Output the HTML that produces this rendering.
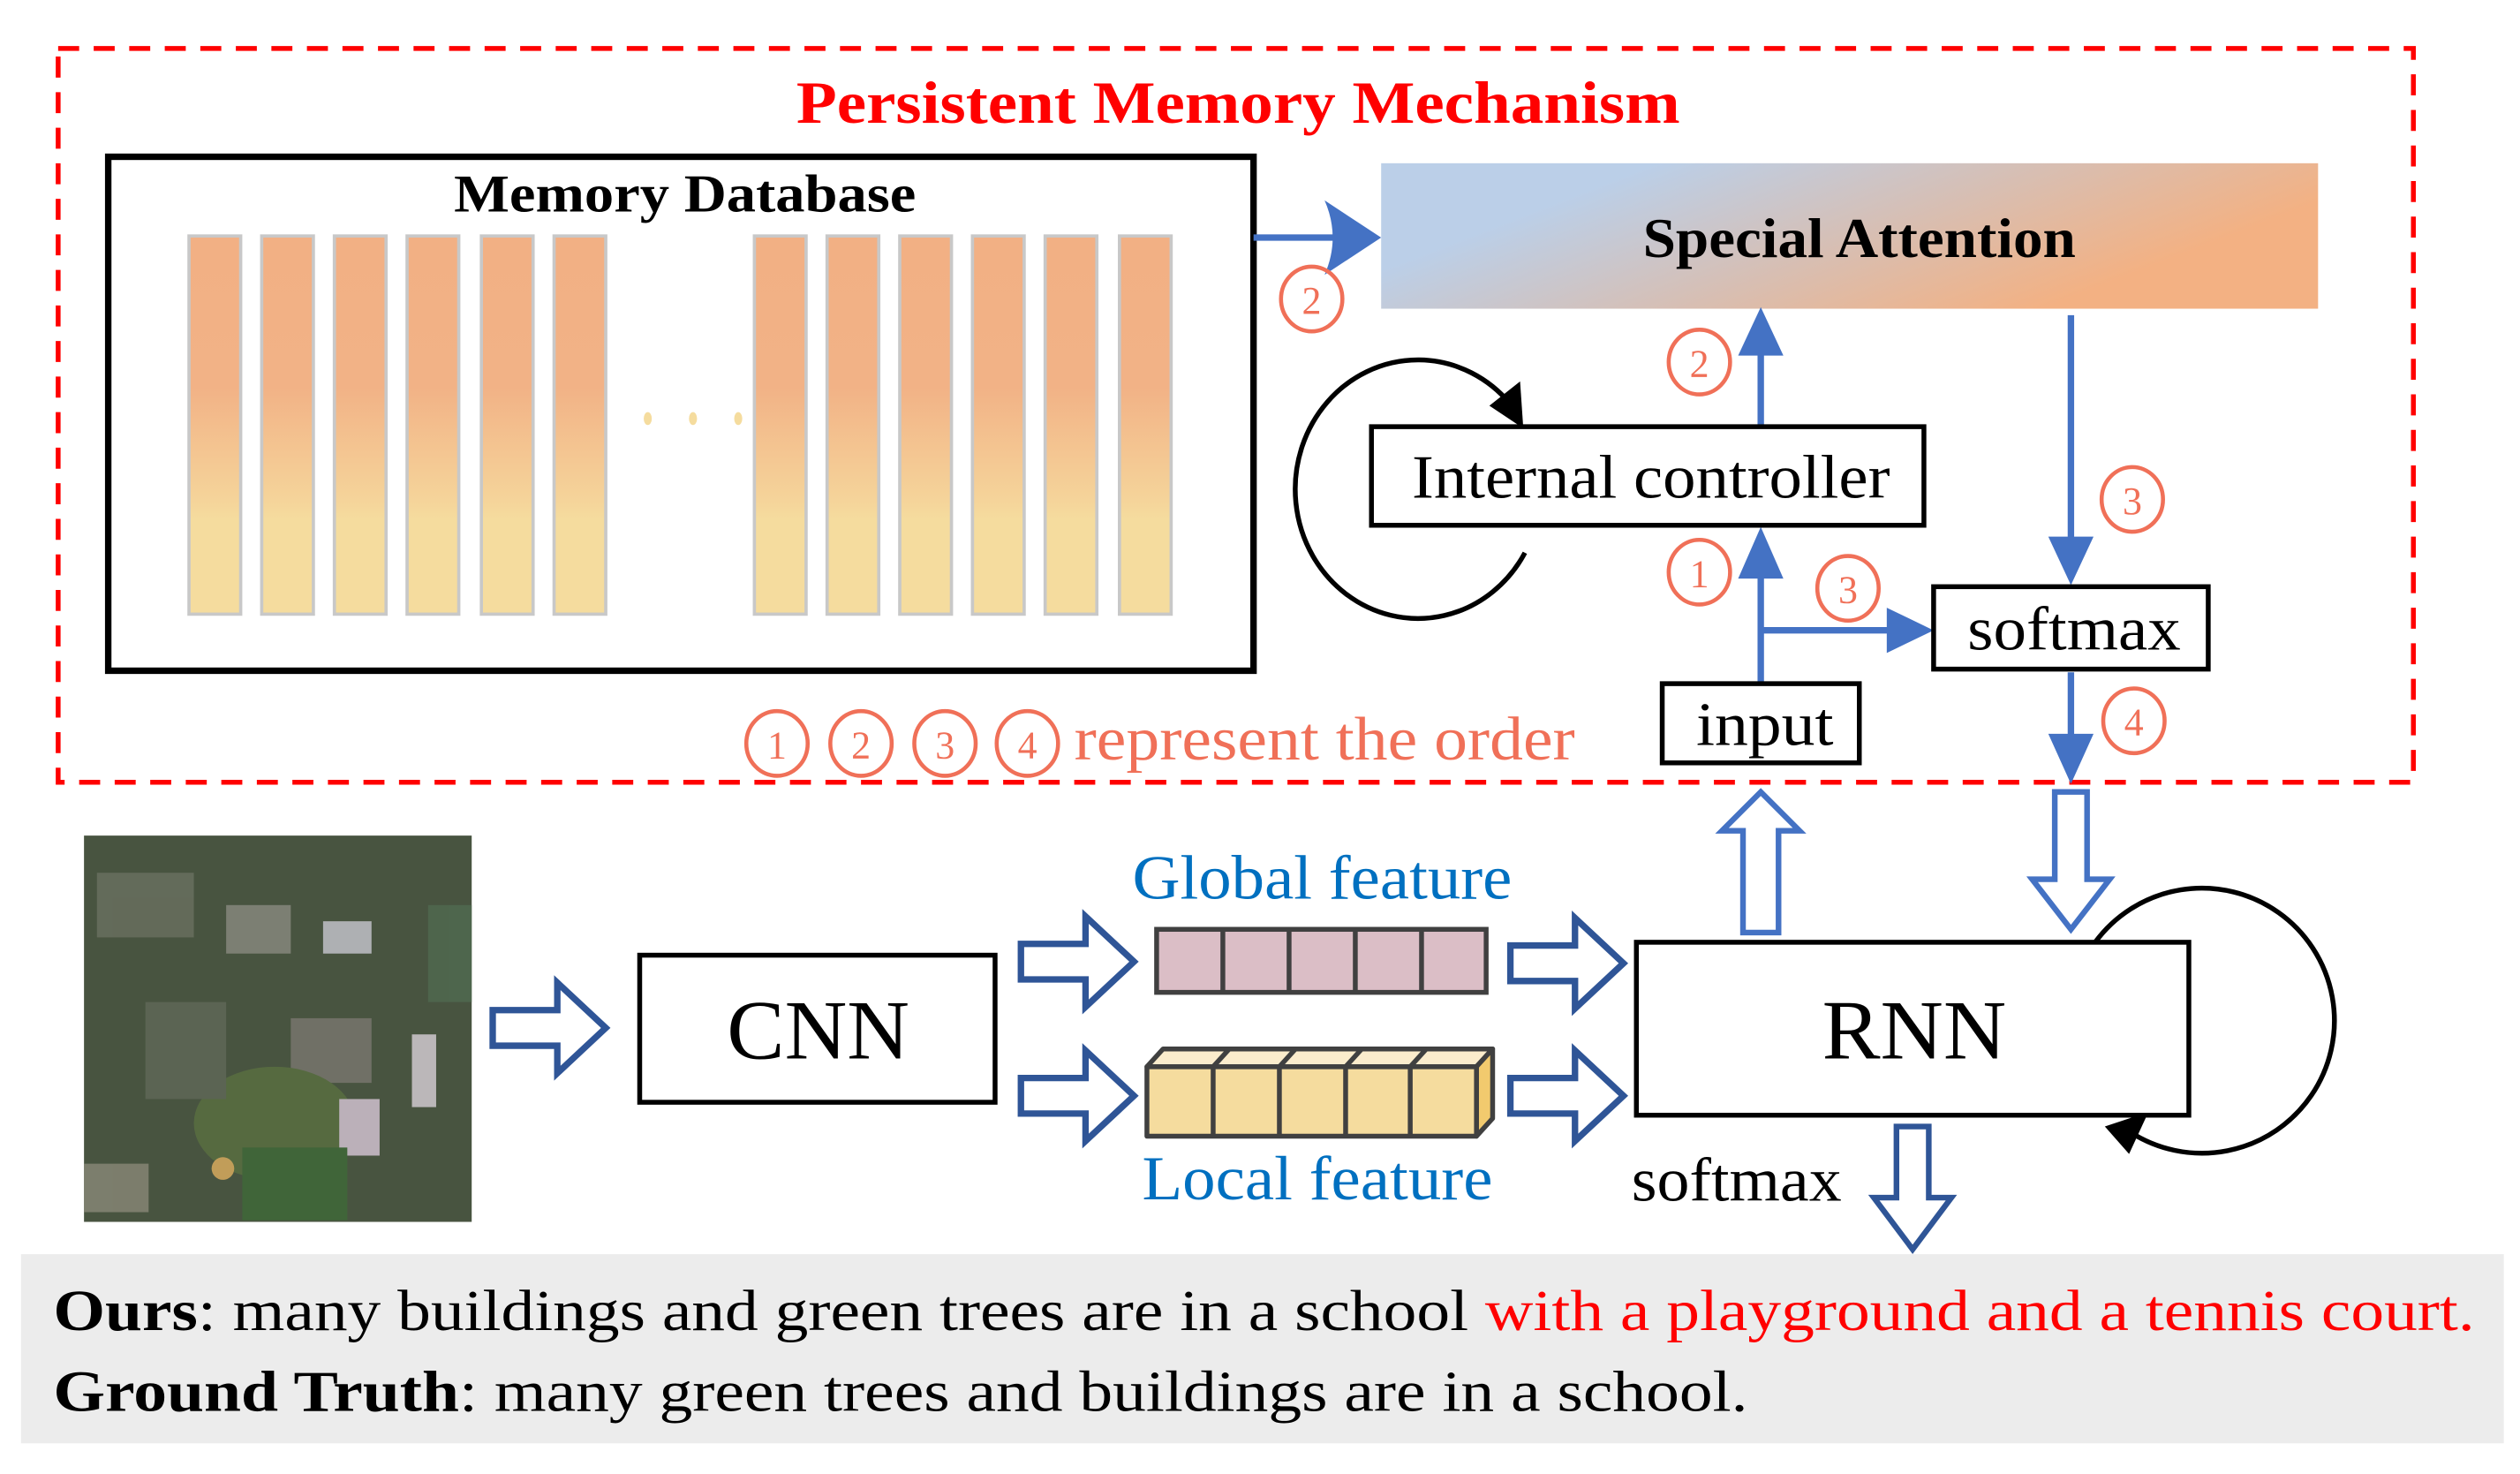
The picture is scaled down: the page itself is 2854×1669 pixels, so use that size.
<!DOCTYPE html>
<html><head><meta charset="utf-8"><style>html,body{margin:0;padding:0;background:#fff}svg{display:block}</style></head>
<body>
<svg width="2854" height="1669" viewBox="0 0 1560 912" preserveAspectRatio="none" xmlns="http://www.w3.org/2000/svg" font-family="'Liberation Serif', serif">
<defs>
<linearGradient id="bar" x1="0" y1="0" x2="0" y2="1">
<stop offset="0" stop-color="#f2b084"/><stop offset="0.4" stop-color="#f2b286"/><stop offset="0.7" stop-color="#f5d49a"/><stop offset="0.75" stop-color="#f5dc9e"/><stop offset="1" stop-color="#f5dc9e"/></linearGradient>
<linearGradient id="sa" x1="0" y1="0.3" x2="1" y2="0.7">
<stop offset="0.15" stop-color="#bbcfe8"/><stop offset="0.5" stop-color="#d6bfb5"/><stop offset="0.85" stop-color="#f3b183"/></linearGradient>
<g id="hr"><path d="M0,-11 H40 V-28 L70,0 L40,28 V11 H0 Z" fill="#fff" stroke="#2f5597" stroke-width="4" stroke-linejoin="miter"/></g>
</defs>
<rect width="1560" height="912" fill="#fff"/>
<rect x="36" y="30" width="1458" height="454" fill="none" stroke="#ff0000" stroke-width="3" stroke-dasharray="13 9"/>
<text x="493" y="76" font-size="37" font-weight="bold" fill="#ff0000" textLength="547" lengthAdjust="spacingAndGlyphs">Persistent Memory Mechanism</text>
<rect x="67" y="97" width="709" height="318" fill="#fff" stroke="#000" stroke-width="4"/>
<text x="281" y="131" font-size="33" font-weight="bold" textLength="286" lengthAdjust="spacingAndGlyphs">Memory Database</text>
<g fill="url(#bar)" stroke="#c8c8c8" stroke-width="2">
<rect x="117" y="146" width="32" height="234"/><rect x="162" y="146" width="32" height="234"/><rect x="207" y="146" width="32" height="234"/><rect x="252" y="146" width="32" height="234"/><rect x="298" y="146" width="32" height="234"/><rect x="343" y="146" width="32" height="234"/>
<rect x="467" y="146" width="32" height="234"/><rect x="512" y="146" width="32" height="234"/><rect x="557" y="146" width="32" height="234"/><rect x="602" y="146" width="32" height="234"/><rect x="647" y="146" width="32" height="234"/><rect x="693" y="146" width="32" height="234"/>
</g>
<g fill="#f5dc9e"><ellipse cx="401" cy="259" rx="2.5" ry="4"/><ellipse cx="429" cy="259" rx="2.5" ry="4"/><ellipse cx="457" cy="259" rx="2.5" ry="4"/></g>
<rect x="855" y="101" width="580" height="90" fill="url(#sa)"/>
<text x="1017" y="159" font-size="35" font-weight="bold" textLength="268" lengthAdjust="spacingAndGlyphs">Special Attention</text>
<g stroke="#4472c4" stroke-width="4" fill="none">
<line x1="776" y1="147" x2="828" y2="147"/>
<line x1="1090" y1="264" x2="1090" y2="215"/>
<line x1="1090" y1="422" x2="1090" y2="350"/>
<line x1="1090" y1="390" x2="1172" y2="390"/>
<line x1="1282" y1="195" x2="1282" y2="338"/>
<line x1="1282" y1="416" x2="1282" y2="460"/>
</g>
<g fill="#4472c4">
<path d="M855,147 L820,124 Q830,147 820,170 Z"/>
<path d="M1090,190 L1076,220 L1104,220 Z"/>
<path d="M1090,326 L1076,358 L1104,358 Z"/>
<path d="M1197,390 L1168,376 L1168,404 Z"/>
<path d="M1282,362 L1268,332 L1296,332 Z"/>
<path d="M1282,485 L1268,454 L1296,454 Z"/>
</g>
<path d="M944,342 A76,80 0 1 1 935,250" fill="none" stroke="#000" stroke-width="3"/>
<path d="M943,265 L922,251 L941,236 Z" fill="#000"/>
<rect x="849" y="264" width="342" height="61" fill="#fff" stroke="#000" stroke-width="3"/>
<text x="874" y="308" font-size="38" textLength="296" lengthAdjust="spacingAndGlyphs">Internal controller</text>
<rect x="1029" y="423" width="122" height="49" fill="#fff" stroke="#000" stroke-width="3"/>
<text x="1050" y="461" font-size="38" textLength="85" lengthAdjust="spacingAndGlyphs">input</text>
<rect x="1197" y="363" width="170" height="51" fill="#fff" stroke="#000" stroke-width="3"/>
<text x="1218" y="402" font-size="38" textLength="132" lengthAdjust="spacingAndGlyphs">softmax</text>
<g fill="none" stroke="#f07058" stroke-width="2.5">
<ellipse cx="812" cy="185" rx="19" ry="20"/><ellipse cx="1052" cy="224" rx="19" ry="20"/><ellipse cx="1320" cy="309" rx="19" ry="20"/><ellipse cx="1052" cy="354" rx="19" ry="20"/><ellipse cx="1144" cy="364" rx="19" ry="20"/><ellipse cx="1321" cy="446" rx="19" ry="20"/>
<ellipse cx="481" cy="460" rx="19" ry="20"/><ellipse cx="533" cy="460" rx="19" ry="20"/><ellipse cx="585" cy="460" rx="19" ry="20"/><ellipse cx="636" cy="460" rx="19" ry="20"/>
</g>
<g fill="#f07058" font-size="24" text-anchor="middle">
<text x="812" y="194">2</text><text x="1052" y="233">2</text><text x="1320" y="318">3</text><text x="1052" y="363">1</text><text x="1144" y="373">3</text><text x="1321" y="455">4</text>
<text x="481" y="469">1</text><text x="533" y="469">2</text><text x="585" y="469">3</text><text x="636" y="469">4</text>
</g>
<text x="665" y="470" font-size="38" fill="#f07058" textLength="310" lengthAdjust="spacingAndGlyphs">represent the order</text>
<path d="M1079,577 V514 H1066 L1090,490 L1114,514 H1101 V577 Z" fill="#fff" stroke="#4472c4" stroke-width="3.5"/>
<path d="M1272,490 V544 H1258 L1282,575 L1306,544 H1292 V490 Z" fill="#fff" stroke="#4472c4" stroke-width="3.5"/>
<path d="M1297,583 A82,82 0 1 1 1318,700" fill="none" stroke="#000" stroke-width="3"/>
<path d="M1303,697 L1330,688 L1318,714 Z" fill="#000"/>
<rect x="1013" y="583" width="342" height="107" fill="#fff" stroke="#000" stroke-width="3"/>
<text x="1128" y="655" font-size="52" textLength="114" lengthAdjust="spacingAndGlyphs">RNN</text>
<text x="1010" y="743" font-size="38" textLength="130" lengthAdjust="spacingAndGlyphs">softmax</text>
<path d="M1174,697 V741 H1160 L1184,773 L1208,741 H1194 V697 Z" fill="#fff" stroke="#2f5597" stroke-width="3.5"/>
<rect x="52" y="517" width="240" height="239" fill="#485440"/>
<g opacity="0.8">
<rect x="60" y="540" width="60" height="40" fill="#6a7060"/>
<rect x="140" y="560" width="40" height="30" fill="#8a8a80"/>
<rect x="180" y="630" width="50" height="40" fill="#7a7870"/>
<rect x="200" y="570" width="30" height="20" fill="#c8c8d0"/>
<ellipse cx="170" cy="695" rx="50" ry="35" fill="#5a7040"/>
<rect x="210" y="680" width="25" height="35" fill="#d8c8d8"/>
<rect x="150" y="710" width="65" height="45" fill="#3f6a38"/>
<rect x="255" y="640" width="15" height="45" fill="#d8d0d8"/>
<rect x="265" y="560" width="27" height="60" fill="#506a50"/>
<circle cx="138" cy="723" r="7" fill="#e0b060"/>
<rect x="52" y="720" width="40" height="30" fill="#8a8878"/>
<rect x="90" y="620" width="50" height="60" fill="#606858"/>
</g>
<use href="#hr" x="305" y="636"/>
<rect x="396" y="591" width="220" height="91" fill="#fff" stroke="#000" stroke-width="3"/>
<text x="450" y="655" font-size="52" textLength="113" lengthAdjust="spacingAndGlyphs">CNN</text>
<use href="#hr" x="632" y="595"/>
<use href="#hr" x="632" y="678"/>
<use href="#hr" x="935" y="596"/>
<use href="#hr" x="935" y="678"/>
<text x="701" y="556" font-size="39" fill="#0070c0" textLength="235" lengthAdjust="spacingAndGlyphs">Global feature</text>
<g stroke="#404040" stroke-width="3">
<rect x="716" y="575" width="204" height="39" fill="#dbbec6"/>
<line x1="757" y1="575" x2="757" y2="614"/><line x1="798" y1="575" x2="798" y2="614"/><line x1="839" y1="575" x2="839" y2="614"/><line x1="880" y1="575" x2="880" y2="614"/>
</g>
<g stroke="#404040" stroke-width="3" stroke-linejoin="round">
<path d="M710,660 L720,649 L924,649 L914,660 Z" fill="#fbeccc"/>
<path d="M914,660 L924,649 L924,692 L914,703 Z" fill="#f2ca6e"/>
<rect x="710" y="660" width="204" height="43" fill="#f5dc9e"/>
<line x1="751" y1="660" x2="751" y2="703"/><line x1="792" y1="660" x2="792" y2="703"/><line x1="833" y1="660" x2="833" y2="703"/><line x1="873" y1="660" x2="873" y2="703"/>
<line x1="751" y1="660" x2="761" y2="649"/><line x1="792" y1="660" x2="802" y2="649"/><line x1="833" y1="660" x2="843" y2="649"/><line x1="873" y1="660" x2="883" y2="649"/>
</g>
<text x="707" y="742" font-size="39" fill="#0070c0" textLength="217" lengthAdjust="spacingAndGlyphs">Local feature</text>
<rect x="13" y="776" width="1537" height="117" fill="#ececec"/>
<text x="33" y="823" font-size="36" textLength="1499" lengthAdjust="spacingAndGlyphs"><tspan font-weight="bold">Ours</tspan>: many buildings and green trees are in a school <tspan fill="#ff0000">with a playground and a tennis court.</tspan></text>
<text x="33" y="873" font-size="36" textLength="1049" lengthAdjust="spacingAndGlyphs"><tspan font-weight="bold">Ground Truth</tspan>: many green trees and buildings are in a school.</text>
</svg>
</body></html>
